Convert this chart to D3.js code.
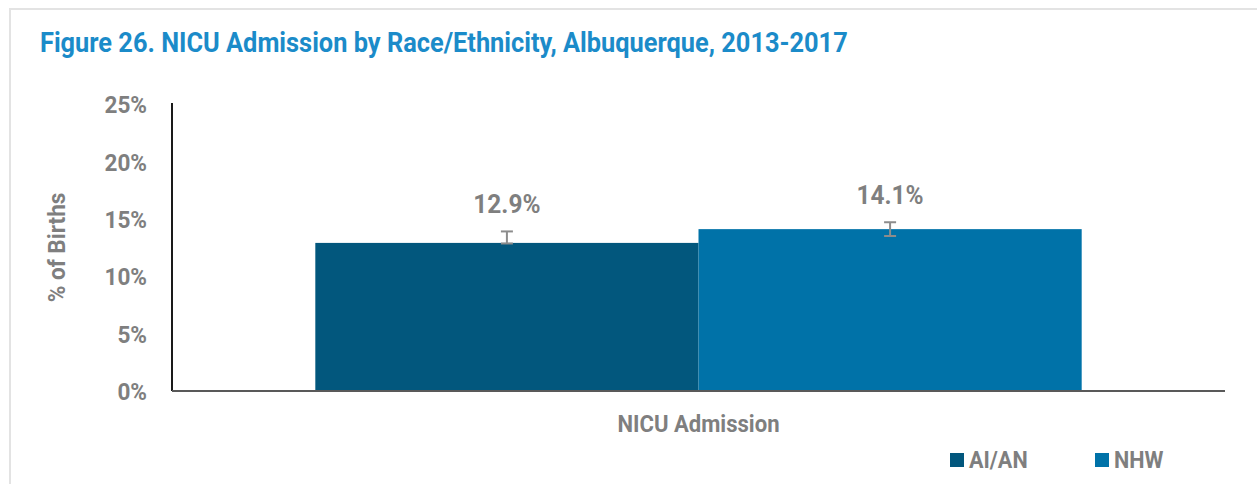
<!DOCTYPE html>
<html>
<head>
<meta charset="utf-8">
<script src="https://cdn.jsdelivr.net/npm/d3@7"></script>
<style>
  body { margin: 0; background: #fff; }
  svg text { font-family: Roboto, 'Liberation Sans', sans-serif; font-weight: bold; }
</style>
</head>
<body>
<svg id="chart"></svg>
<script>
const width = 1257;
const height = 484;

const title = 'Figure 26. NICU Admission by Race/Ethnicity, Albuquerque, 2013-2017';
const categories = ['NICU Admission'];
const seriesNames = ['AI/AN', 'NHW'];
const seriesColors = ['#02577d', '#0072a8'];
const values = [12.9, 14.1];
const errLow = [12.85, 13.5];
const errHigh = [13.9, 14.7];
const yTicks = [0, 5, 10, 15, 20, 25];

const gray = '#7f7f7f';
const narrow = 0.94; // fake a condensed face

const svg = d3.select('#chart')
  .attr('width', width)
  .attr('height', height);

// squeeze text horizontally, keeping its anchor point where it was
function squeeze(sel) {
  sel.each(function() {
    const t = d3.select(this);
    const x = +t.attr('x') || 0;
    t.attr('x', x / narrow)
     .attr('transform', (t.attr('transform') || '') + ` scale(${narrow},1)`);
  });
}

// light frame round the figure
svg.append('path')
  .attr('d', `M10,${height} V9 H${width}`)
  .attr('fill', 'none')
  .attr('stroke', '#e3e3e3')
  .attr('stroke-width', 2);

svg.append('text')
  .attr('x', 40)
  .attr('y', 52)
  .attr('fill', '#1b8bc9')
  .style('font-size', '27px')
  .text(title)
  .call(squeeze);

const x0 = d3.scaleBand()
  .domain(categories)
  .range([172, 1225])
  .paddingInner(0)
  .paddingOuter(0.187);

const x1 = d3.scaleBand()
  .domain(seriesNames)
  .range([0, x0.bandwidth()]);

const y = d3.scaleLinear()
  .domain([0, 25])
  .range([391, 104]);

// y axis labels
const yAxis = svg.append('g')
  .attr('transform', 'translate(172,0)')
  .call(d3.axisLeft(y).tickValues(yTicks).tickSize(0).tickPadding(25).tickFormat(d => d + '%'));
yAxis.select('.domain').remove();
yAxis.selectAll('text')
  .attr('fill', gray)
  .attr('dy', '0.36em')
  .style('font-size', '24px')
  .call(squeeze);

svg.append('line')
  .attr('x1', 172).attr('x2', 172)
  .attr('y1', y(25) - 1).attr('y2', y(0))
  .attr('stroke', '#1a1a1a')
  .attr('stroke-width', 2);

svg.append('text')
  .attr('transform', `translate(65,${(y(0) + y(25)) / 2}) rotate(-90)`)
  .attr('text-anchor', 'middle')
  .attr('fill', gray)
  .style('font-size', '24px')
  .text('% of Births')
  .call(squeeze);

const group = svg.append('g')
  .selectAll('g')
  .data(categories)
  .enter()
  .append('g')
    .attr('transform', d => `translate(${x0(d)},0)`);

const rows = seriesNames.map((s, i) => ({
  name: s, color: seriesColors[i], value: values[i], lo: errLow[i], hi: errHigh[i]
}));

group.selectAll('rect')
  .data(rows)
  .enter()
  .append('rect')
    .attr('x', d => x1(d.name))
    .attr('y', d => y(d.value))
    .attr('width', x1.bandwidth())
    .attr('height', d => y(0) - y(d.value))
    .attr('fill', d => d.color);

// error bars
const err = group.selectAll('g.err')
  .data(rows)
  .enter()
  .append('g')
    .classed('err', true)
    .attr('transform', d => `translate(${x1(d.name) + x1.bandwidth() / 2},0)`)
    .attr('stroke', '#8c8c8c')
    .attr('stroke-width', 2);
err.append('line')
  .attr('y1', d => y(d.lo)).attr('y2', d => y(d.hi));
err.append('line')
  .attr('x1', -6).attr('x2', 6)
  .attr('y1', d => y(d.lo)).attr('y2', d => y(d.lo));
err.append('line')
  .attr('x1', -6).attr('x2', 6)
  .attr('y1', d => y(d.hi)).attr('y2', d => y(d.hi));

group.selectAll('text.val')
  .data(rows)
  .enter()
  .append('text')
    .classed('val', true)
    .attr('x', d => x1(d.name) + x1.bandwidth() / 2)
    .attr('y', d => y(d.hi) - 18)
    .attr('text-anchor', 'middle')
    .attr('fill', gray)
    .style('font-size', '26px')
    .text(d => d.value.toFixed(1) + '%')
    .call(squeeze);

// x axis
svg.append('line')
  .attr('x1', 172).attr('x2', 1225)
  .attr('y1', y(0)).attr('y2', y(0))
  .attr('stroke', '#595959')
  .attr('stroke-width', 2);

svg.selectAll('text.cat')
  .data(categories)
  .enter()
  .append('text')
    .classed('cat', true)
    .attr('x', d => x0(d) + x0.bandwidth() / 2)
    .attr('y', 432)
    .attr('text-anchor', 'middle')
    .attr('fill', gray)
    .style('font-size', '23.5px')
    .text(d => d)
    .call(squeeze);

// legend
const legend = svg.selectAll('g.legend')
  .data(rows)
  .enter()
  .append('g')
    .classed('legend', true)
    .attr('transform', (d, i) => `translate(${950 + i * 145},453)`);
legend.append('rect')
  .attr('width', 14).attr('height', 14)
  .attr('fill', d => d.color);
legend.append('text')
  .attr('x', 19)
  .attr('y', 15)
  .attr('fill', gray)
  .style('font-size', '23px')
  .text(d => d.name)
  .call(squeeze);
</script>
</body>
</html>
